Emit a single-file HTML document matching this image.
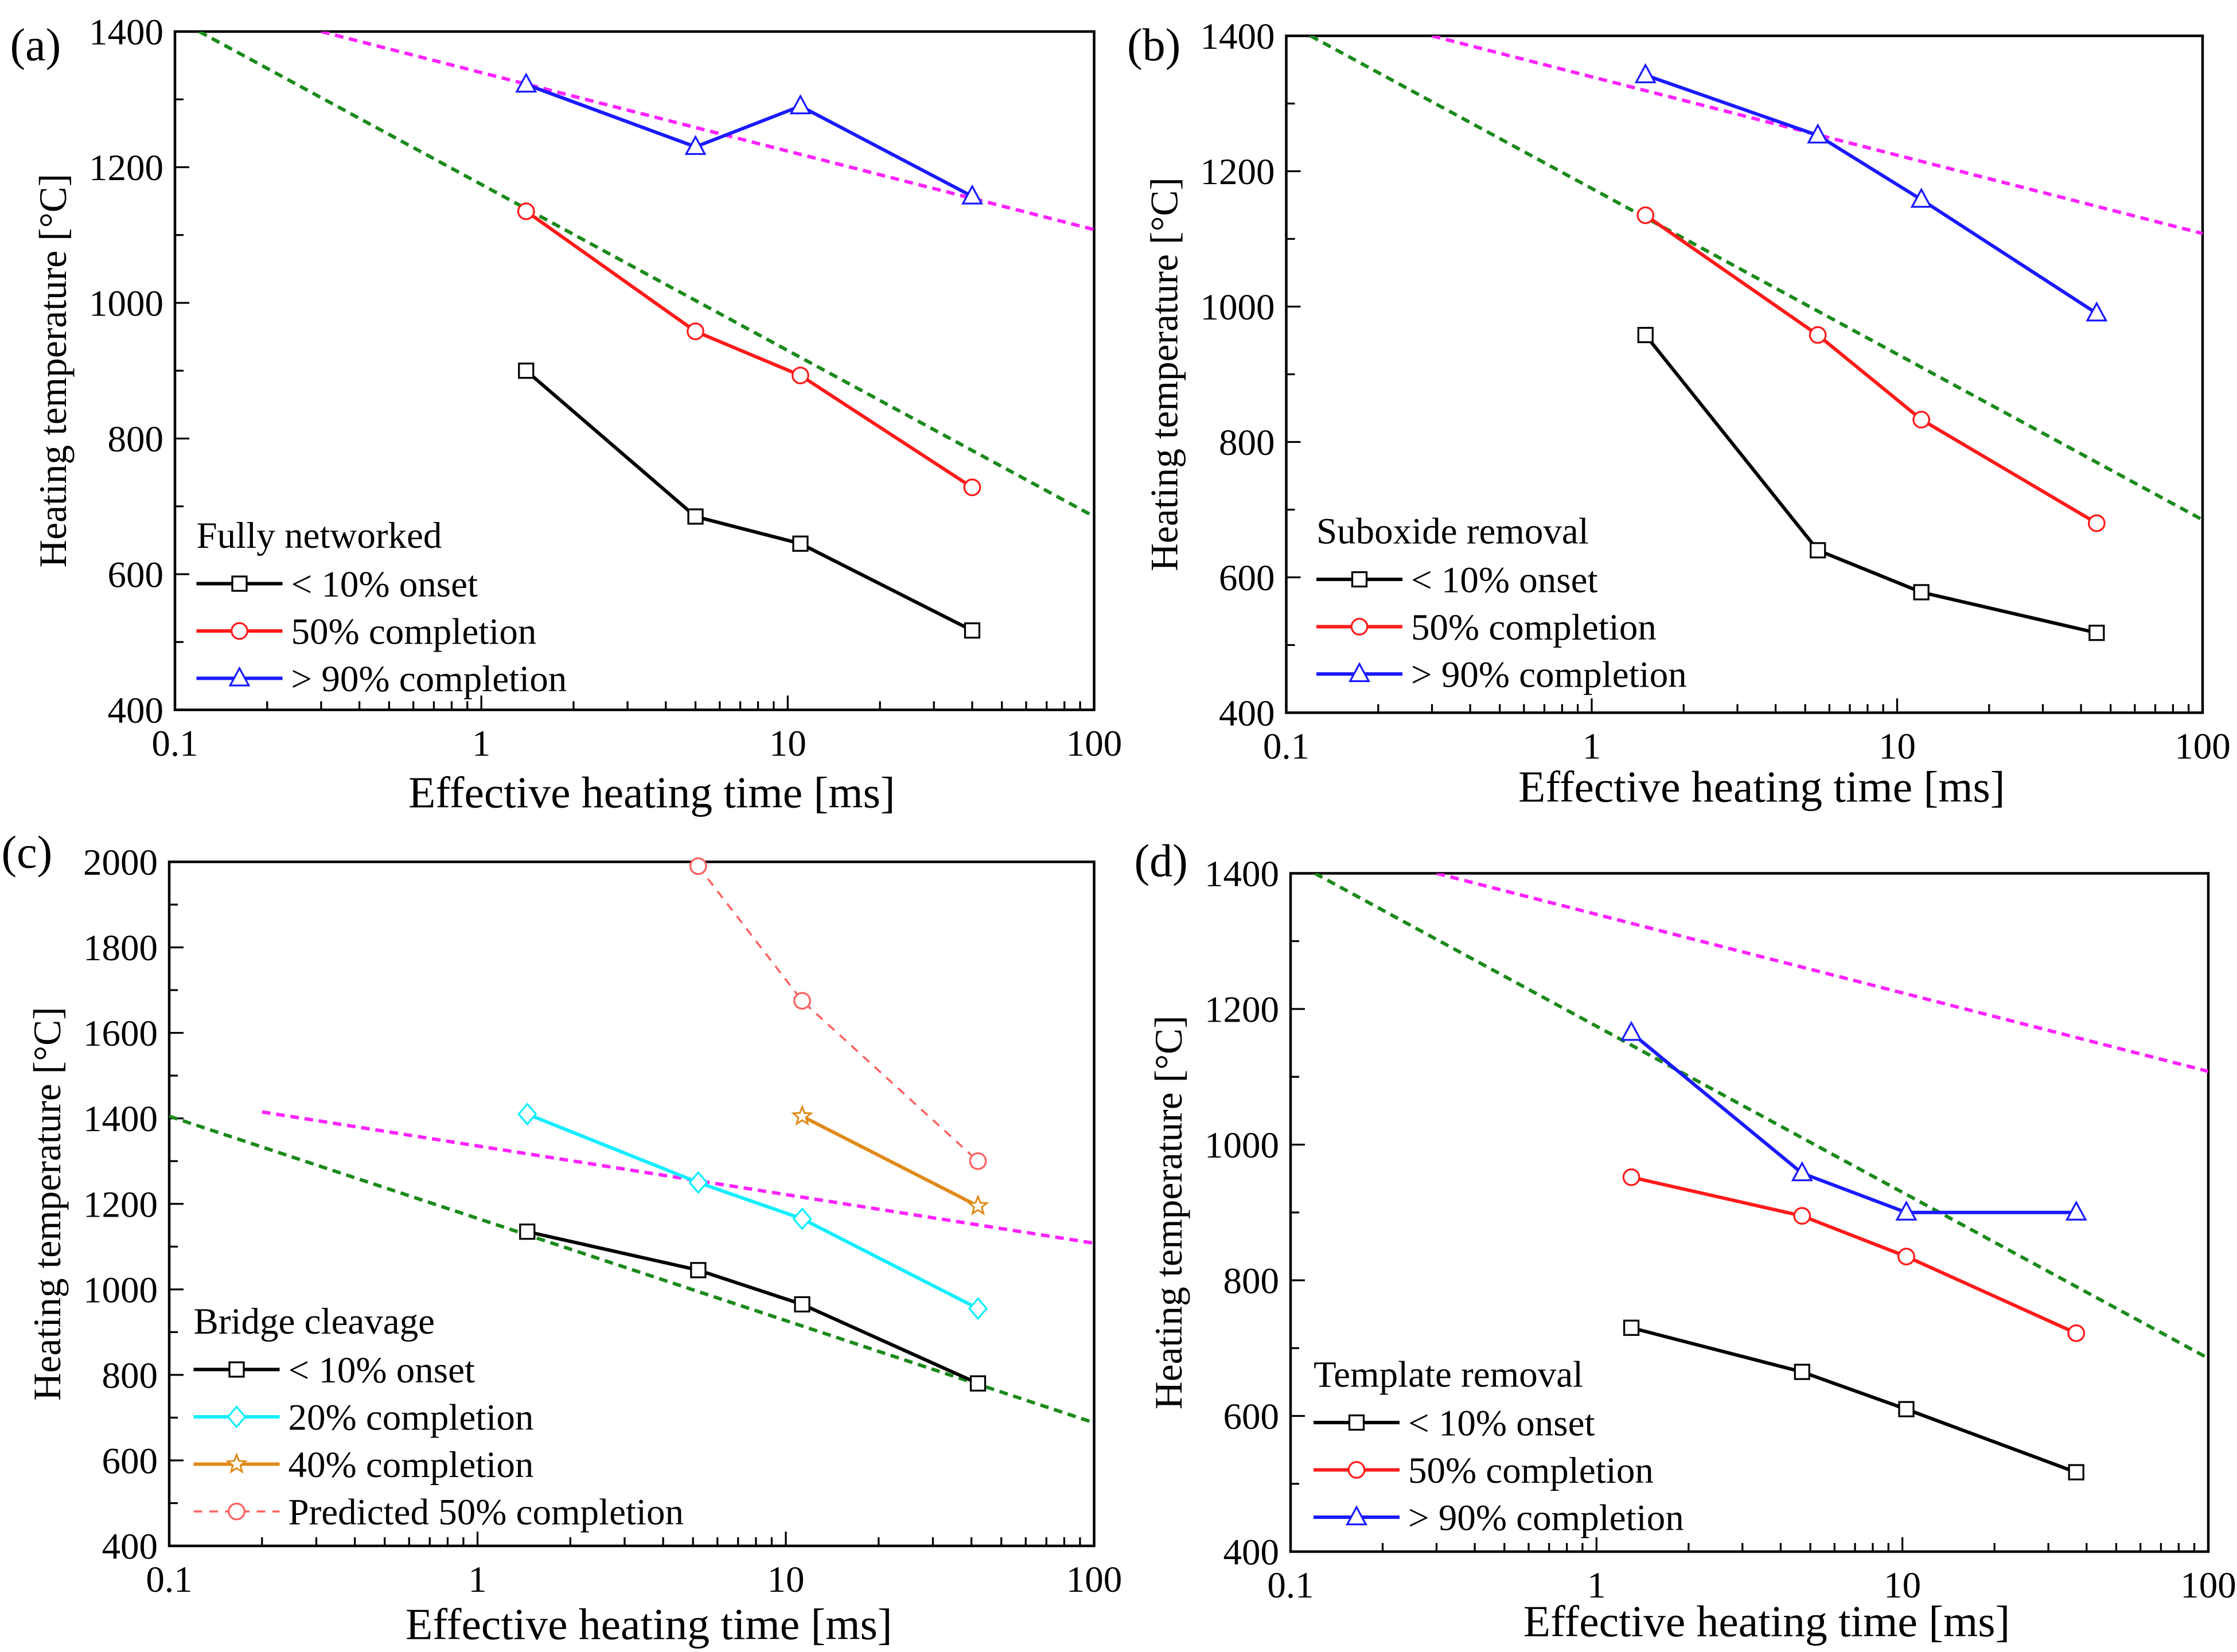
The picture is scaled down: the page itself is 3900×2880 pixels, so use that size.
<!DOCTYPE html>
<html><head><meta charset="utf-8"><style>
html,body{margin:0;padding:0;background:#fff}
svg{display:block}
text{font-family:"Liberation Serif","DejaVu Serif",serif;fill:#000}
</style></head><body>
<svg id="fig" width="3900" height="2880" viewBox="0 0 1560 1152" xmlns="http://www.w3.org/2000/svg"></svg>
<script>
// ---------- data ----------
const aX = [1.4, 5, 11, 40];
const aOnset = [900, 685, 645, 517];
const a50 = [1135, 958, 893, 728];
const a90 = [1322, 1230, 1290, 1157];

const bX = [1.5, 5.5, 12, 45];
const bOnset = [958, 640, 578, 518];
const b50 = [1135, 958, 833, 680];
const b90 = [1342, 1253, 1158, 990];

const cX = [1.45, 5.2, 11.3, 42];
const cOnset = [1135, 1045, 965, 780];
const c20 = [1410, 1250, 1165, 955];
const c40X = [11.3, 42];
const c40 = [1405, 1195];
const cPredX = [5.2, 11.3, 42];
const cPred = [1990, 1675, 1300];

const dX = [1.3, 4.7, 10.3, 37];
const dOnset = [730, 665, 610, 517];
const d50 = [952, 895, 835, 722];
const d90 = [1165, 958, 900, 900];

const greenX = [0.12, 100];
const greenY = [1400, 685];
const cGreenX = [0.1, 100];
const cGreenY = [1405, 688];
const magentaX = [0.3, 100];
const magentaY = [1400, 1108];
const cMagentaX = [0.2, 100];
const cMagentaY = [1415, 1108];

const xTickLabels = ["0.1", "1", "10", "100"];
const yTicks14 = [400, 600, 800, 1000, 1200, 1400];
const yTicks20 = [400, 600, 800, 1000, 1200, 1400, 1600, 1800, 2000];

// ---------- drawing ----------
const NS = "http://www.w3.org/2000/svg";
const fig = document.getElementById('fig');
function mk(tag, attrs, parent) {
  const e = document.createElementNS(NS, tag);
  for (const k in attrs) e.setAttribute(k, attrs[k]);
  (parent || fig).appendChild(e);
  return e;
}

function marker(g, type, x, y, color) {
  let e;
  if (type === 'square') e = mk('rect', {x: x-5, y: y-5, width: 10, height: 10, fill: '#fff', stroke: color, 'stroke-width': 1.3}, g);
  else if (type === 'circle') e = mk('circle', {cx: x, cy: y, r: 5.5, fill: '#fff', stroke: color, 'stroke-width': 1.3}, g);
  else if (type === 'triangle') e = mk('polygon', {points: `${x},${y-7} ${x-6.5},${y+5} ${x+6.5},${y+5}`, fill: '#fff', stroke: color, 'stroke-width': 1.3}, g);
  else if (type === 'diamond') e = mk('polygon', {points: `${x},${y-7} ${x+6},${y} ${x},${y+7} ${x-6},${y}`, fill: '#fff', stroke: color, 'stroke-width': 1.3}, g);
  else if (type === 'star') {
    let p = [];
    for (let i = 0; i < 10; i++) { const r = i % 2 ? 2.8 : 6.5; const a = -Math.PI/2 + i*Math.PI/5; p.push((x + r*Math.cos(a)).toFixed(2) + ',' + (y + r*Math.sin(a)).toFixed(2)); }
    e = mk('polygon', {points: p.join(' '), fill: '#fff', stroke: color, 'stroke-width': 1.2}, g);
  }
  
  
}

function panel(P) {
  const g = mk('g', {});
  
  
  const xs = v => P.x0 + (Math.log10(v) + 1) / 3 * (P.x1 - P.x0);
  const ys = v => P.yB + (v - P.ymin) / (P.ymax - P.ymin) * (P.yT - P.yB);
  const cid = 'clip' + P.id;
  const cp = mk('clipPath', {id: cid}, g);
  mk('rect', {x: P.x0, y: P.yT, width: P.x1 - P.x0, height: P.yB - P.yT}, cp);
  const fr = mk('rect', {x: P.x0, y: P.yT, width: P.x1 - P.x0, height: P.yB - P.yT, fill: 'none', stroke: '#000', 'stroke-width': 1.8}, g);
  
  
  for (let d = 0; d < 3; d++) {
    for (let m = 1; m <= 9; m++) {
      const v = Math.pow(10, d - 1) * m;
      const X = xs(v);
      mk('line', {x1: X, x2: X, y1: P.yB, y2: P.yB - (m === 1 ? 10 : 6), stroke: '#000', 'stroke-width': 1.3}, g);
    }
  }
  xTickLabels.forEach((t, i) => {
    const tx = mk('text', {x: xs(Math.pow(10, i - 1)), y: P.yB + 32, 'text-anchor': 'middle', 'font-size': 26}, g);
    tx.textContent = t;
    
    
  });
  for (let v = P.ymin; v <= P.ymax; v += 100) {
    const Y = ys(v);
    mk('line', {x1: P.x0, x2: P.x0 + (v % 200 === 0 ? 10 : 6), y1: Y, y2: Y, stroke: '#000', 'stroke-width': 1.3}, g);
  }
  P.yticks.forEach(v => {
    const tx = mk('text', {x: P.x0 - 8, y: ys(v) + 9, 'text-anchor': 'end', 'font-size': 26}, g);
    tx.textContent = v;
    
    
  });
  const xt = mk('text', {x: (P.x0 + P.x1) / 2 + 12, y: P.yB + P.xto, 'text-anchor': 'middle', 'font-size': 31}, g);
  xt.textContent = 'Effective heating time [ms]';
  
  
  const ycx = P.x0 - 76, ycy = (P.yT + P.yB) / 2;
  const ytt = mk('text', {x: ycx, y: ycy, 'text-anchor': 'middle', 'font-size': 27, transform: `rotate(-90 ${ycx} ${ycy})`}, g);
  ytt.textContent = 'Heating temperature [°C]';
  
  
  const pl = mk('text', {x: P.lx, y: P.ly, 'font-size': 32}, g);
  pl.textContent = '(' + P.id + ')';
  
  
  const cg = mk('g', {'clip-path': `url(#${cid})`}, g);
  P.refs.forEach(r => {
    const ln = mk('line', {x1: xs(r.x[0]), y1: ys(r.y[0]), x2: xs(r.x[1]), y2: ys(r.y[1]), stroke: r.color, 'stroke-width': 2.4, 'stroke-dasharray': '6 4'}, cg);
    
    
  });
  P.series.forEach(s => {
    const pts = s.x.map((v, i) => xs(v).toFixed(1) + ',' + ys(s.y[i]).toFixed(1)).join(' ');
    const pl2 = mk('polyline', {points: pts, fill: 'none', stroke: s.color, 'stroke-width': s.dash ? 1.4 : 2.4, 'stroke-dasharray': s.dash || 'none'}, cg);
    
    
    s.x.forEach((v, i) => marker(g, s.marker, xs(v), ys(s.y[i]), s.color));
  });
  const lg = mk('g', {}, g);
  
  
  const tt = mk('text', {x: P.legX, y: P.legY, 'font-size': 26}, lg);
  tt.textContent = P.legTitle;
  
  
  P.series.forEach((s, i) => {
    const Y = P.legY + 33 * (i + 1) - 8;
    mk('line', {x1: P.legX, x2: P.legX + 60, y1: Y, y2: Y, stroke: s.color, 'stroke-width': s.dash ? 1.4 : 2.4, 'stroke-dasharray': s.dash || 'none'}, lg);
    marker(lg, s.marker, P.legX + 30, Y, s.color);
    const t = mk('text', {x: P.legX + 66, y: Y + 9, 'font-size': 26}, lg);
    t.textContent = s.label;
    
    
  });
}

const refStd = [
  {x: greenX, y: greenY, color: '#1a8a1a', name: 'green-reference-line'},
  {x: magentaX, y: magentaY, color: '#ff22ff', name: 'magenta-reference-line'}
];

panel({id: 'a', x0: 122, x1: 763, yT: 22, yB: 495, ymin: 400, ymax: 1400, yticks: yTicks14, lx: 7, ly: 42, xto: 68,
  refs: refStd, legX: 137, legY: 382, legTitle: 'Fully networked',
  series: [
    {x: aX, y: aOnset, color: '#000', marker: 'square', label: '< 10% onset', name: 'onset'},
    {x: aX, y: a50, color: '#ff1a1a', marker: 'circle', label: '50% completion', name: 'completion-50'},
    {x: aX, y: a90, color: '#1a1aff', marker: 'triangle', label: '> 90% completion', name: 'completion-90'}
  ]});
panel({id: 'b', x0: 897, x1: 1536, yT: 25, yB: 497, ymin: 400, ymax: 1400, yticks: yTicks14, lx: 786, ly: 42, xto: 62,
  refs: refStd, legX: 918, legY: 379, legTitle: 'Suboxide removal',
  series: [
    {x: bX, y: bOnset, color: '#000', marker: 'square', label: '< 10% onset', name: 'onset'},
    {x: bX, y: b50, color: '#ff1a1a', marker: 'circle', label: '50% completion', name: 'completion-50'},
    {x: bX, y: b90, color: '#1a1aff', marker: 'triangle', label: '> 90% completion', name: 'completion-90'}
  ]});
panel({id: 'c', x0: 118, x1: 763, yT: 601, yB: 1078, ymin: 400, ymax: 2000, yticks: yTicks20, lx: 1, ly: 605, xto: 65,
  refs: [
    {x: cGreenX, y: cGreenY, color: '#1a8a1a', name: 'green-reference-line'},
    {x: cMagentaX, y: cMagentaY, color: '#ff22ff', name: 'magenta-reference-line'}
  ], legX: 135, legY: 930, legTitle: 'Bridge cleavage',
  series: [
    {x: cX, y: cOnset, color: '#000', marker: 'square', label: '< 10% onset', name: 'onset'},
    {x: cX, y: c20, color: '#11eeff', marker: 'diamond', label: '20% completion', name: 'completion-20'},
    {x: c40X, y: c40, color: '#e08a1a', marker: 'star', label: '40% completion', name: 'completion-40'},
    {x: cPredX, y: cPred, color: '#ff6060', marker: 'circle', label: 'Predicted 50% completion', name: 'predicted-50', dash: '6 5'}
  ]});
panel({id: 'd', x0: 900, x1: 1540, yT: 609, yB: 1082, ymin: 400, ymax: 1400, yticks: yTicks14, lx: 791, ly: 611, xto: 59,
  refs: refStd, legX: 916, legY: 967, legTitle: 'Template removal',
  series: [
    {x: dX, y: dOnset, color: '#000', marker: 'square', label: '< 10% onset', name: 'onset'},
    {x: dX, y: d50, color: '#ff1a1a', marker: 'circle', label: '50% completion', name: 'completion-50'},
    {x: dX, y: d90, color: '#1a1aff', marker: 'triangle', label: '> 90% completion', name: 'completion-90'}
  ]});
</script>
</body></html>
